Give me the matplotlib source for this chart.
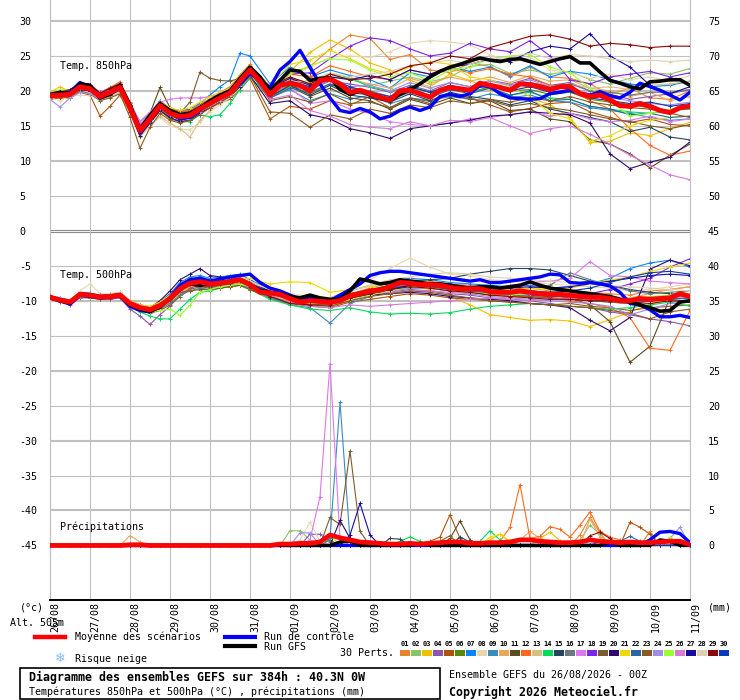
import matplotlib
matplotlib.use("Agg")
import matplotlib.pyplot as plt
from matplotlib.lines import Line2D
from matplotlib.patches import Rectangle
from matplotlib.transforms import ScaledTranslation

plt.rcParams['font.family'] = 'DejaVu Sans Mono'
plt.rcParams['font.size'] = 7.2
plt.rcParams['axes.unicode_minus'] = False

# ---- time axes (hours from 26/08 00Z) ----
hours = list(range(0, 385, 6))
hours_m = list(range(0, 121, 6)) + list(range(132, 385, 12))
days = list(range(0, 385, 24))
dates = ['26/08', '27/08', '28/08', '29/08', '30/08', '31/08', '01/09', '02/09', '03/09',
         '04/09', '05/09', '06/09', '07/09', '08/09', '09/09', '10/09', '11/09']

member_colors = ['#e8832e', '#88c46a', '#f0c000', '#8e55ae', '#b0520e', '#5a8a0a', '#0a84ff',
                 '#e8d6b0', '#3a8cc0', '#e8a85a', '#5e4a1c', '#ff6a1a', '#d4c080', '#00dd5a',
                 '#244560', '#6a7884', '#de78f0', '#7e22ee', '#7c5c2c', '#2e0a6e', '#f0d800',
                 '#2a66a0', '#8c5a20', '#9e8ee8', '#9cff30', '#d87ad8', '#1a0a9e', '#e0d0b0',
                 '#880808', '#0a3ab8']

# ---- mean / control / GFS (6 h) ----
mean850 = [19.3, 19.4, 19.5, 20.6, 20.3, 19.2, 19.8, 20.5, 17.6, 14.3,
           16.0, 17.9, 16.8, 16.3, 16.5, 17.4, 18.2, 19.0, 19.7, 21.4,
           23.0, 21.4, 19.4, 20.8, 21.1, 20.8, 20.0, 21.5, 21.7, 21.0,
           19.8, 20.1, 19.6, 19.1, 18.7, 20.0, 20.1, 19.6, 19.1, 20.1,
           20.5, 20.3, 20.1, 21.1, 20.8, 20.5, 20.1, 21.0, 20.9, 20.6,
           20.2, 20.6, 20.6, 19.6, 19.2, 19.4, 18.7, 17.9, 17.8, 18.2,
           17.8, 17.2, 16.9, 17.6, 17.8]
gfs850 = [19.5, 19.8, 19.6, 21.0, 20.8, 19.0, 19.5, 20.8, 18.0, 14.5,
          16.5, 18.2, 17.2, 16.6, 16.8, 17.5, 18.6, 19.4, 20.0, 21.8,
          23.4, 22.0, 20.0, 21.5, 23.0, 22.8, 21.5, 21.8, 21.9, 20.2,
          19.5, 20.0, 19.4, 19.0, 18.6, 19.5, 20.2, 21.0, 22.0, 22.8,
          23.4, 23.8, 24.3, 24.7, 24.4, 24.2, 24.5, 24.6, 24.2, 23.8,
          24.2, 24.6, 24.9, 24.0, 24.0, 22.7, 21.5, 21.1, 20.6, 20.3,
          21.3, 21.4, 21.6, 21.6, 20.8]
ctrl850 = [19.4, 19.6, 19.8, 21.2, 20.5, 19.0, 19.6, 20.8, 17.8, 14.0,
           15.8, 18.0, 17.0, 16.0, 16.2, 17.2, 18.5, 19.2, 20.0, 21.0,
           22.5, 21.5, 20.5, 23.0, 24.2, 25.8, 23.4, 21.0, 19.0, 17.2,
           16.9, 17.5, 17.0, 16.0, 16.4, 17.2, 17.7, 17.2, 17.7, 19.2,
           19.5, 19.2, 19.6, 20.8, 20.6, 19.6, 19.0, 18.9, 18.8, 18.9,
           19.6, 19.8, 20.1, 19.6, 19.4, 19.9, 19.3, 19.0, 19.8, 21.1,
           20.6, 20.1, 19.4, 18.7, 19.8]
mean500 = [-9.5, -9.9, -10.2, -9.1, -9.2, -9.5, -9.4, -9.2, -10.4, -11.0,
           -11.3, -10.7, -9.7, -8.3, -7.5, -7.3, -7.6, -7.5, -7.3, -7.0,
           -7.7, -8.8, -8.9, -9.1, -9.7, -10.2, -10.0, -10.1, -10.2, -10.0,
           -9.3, -9.0, -8.6, -8.5, -8.0, -7.4, -7.5, -7.7, -7.7, -7.8,
           -8.1, -8.3, -8.3, -8.3, -8.7, -8.8, -8.8, -8.6, -8.8, -9.0,
           -9.1, -9.1, -9.2, -9.4, -9.5, -9.5, -9.7, -10.0, -10.0, -9.7,
           -9.8, -9.7, -9.6, -9.0, -9.4]
gfs500 = [-9.6, -10.0, -10.3, -9.0, -9.2, -9.5, -9.4, -9.2, -10.6, -11.2,
          -11.5, -10.9, -9.6, -8.2, -7.6, -7.8, -7.6, -7.4, -7.2, -7.0,
          -7.6, -8.6, -8.8, -9.0, -9.4, -9.6, -9.2, -9.6, -9.8, -9.8,
          -8.6, -6.9, -7.2, -7.6, -7.4, -7.0, -7.2, -7.4, -7.6, -7.6,
          -7.8, -8.0, -8.2, -8.0, -8.0, -8.2, -8.0, -7.8, -7.3, -7.8,
          -8.2, -8.4, -8.6, -8.8, -9.0, -9.2, -9.4, -9.8, -10.2, -10.6,
          -11.0, -11.5, -11.4, -10.2, -10.0]
ctrl500 = [-9.4, -10.0, -10.5, -9.2, -9.4, -9.6, -9.5, -9.3, -10.8, -11.4,
           -11.6, -10.8, -9.6, -7.8, -7.0, -6.8, -7.2, -6.9, -6.6, -6.4,
           -6.2, -7.4, -8.2, -8.6, -9.2, -9.8, -9.6, -9.8, -10.0, -9.2,
           -8.4, -7.6, -6.4, -6.0, -5.8, -5.8, -6.0, -6.2, -6.4, -6.6,
           -6.8, -7.0, -7.2, -7.0, -7.4, -7.4, -7.2, -7.0, -6.8, -6.6,
           -6.2, -6.3, -7.4, -7.5, -7.4, -7.6, -7.9, -8.8, -10.4, -10.6,
           -11.3, -12.3, -12.3, -12.1, -12.4]
mean_rr = [0, 0, 0, 0, 0, 0, 0, 0, 0.1, 0.1,
           0, 0, 0, 0, 0, 0, 0, 0, 0, 0,
           0, 0, 0, 0.2, 0.2, 0.3, 0.3, 0.5, 1.5, 1.1,
           0.8, 0.5, 0.4, 0.3, 0.2, 0.2, 0.3, 0.2, 0.3, 0.4,
           0.5, 0.5, 0.3, 0.3, 0.4, 0.4, 0.5, 0.8, 0.8, 0.6,
           0.5, 0.4, 0.4, 0.5, 0.8, 0.6, 0.5, 0.4, 0.5, 0.4,
           0.4, 0.5, 0.6, 0.6, 0.1]
ctrl_rr = {360: 0.8, 366: 1.9, 372: 2.0, 378: 1.7, 384: 0.4}
gfs_rr = {174: 0.5, 180: 0.6, 222: 0.3, 336: 0.5, 366: 0.8, 372: 0.6}

# ---- 30 perturbations, T850 (hours_m) ----
t850_01 = [19.6, 19.9, 19.8, 21.0, 20.8, 19.8, 20.5, 21.2, 18.4, 15.2, 16.8, 18.5, 17.6, 17.0, 17.1, 18.1, 18.9, 19.8, 20.6, 22.3, 23.8,
           20.0, 22.5, 23.5, 26.0, 28.0, 27.5, 24.5, 25.2, 23.0, 22.6, 24.0, 23.5, 22.0, 23.4, 22.0, 21.8, 21.0, 19.5, 20.4, 19.0, 18.8, 20.0]
t850_02 = [19.5, 19.7, 19.3, 20.4, 20.1, 19.4, 20.0, 20.6, 17.9, 14.6, 16.4, 18.1, 17.3, 16.6, 16.8, 17.5, 18.0, 18.8, 19.8, 21.5, 22.8,
           19.8, 21.6, 21.0, 22.5, 21.9, 20.8, 21.4, 22.0, 21.3, 22.0, 23.5, 23.8, 22.5, 23.0, 22.4, 22.8, 21.6, 21.0, 21.8, 22.6, 22.4, 23.2]
t850_03 = [19.8, 20.6, 19.9, 21.0, 20.9, 19.5, 20.0, 20.8, 17.2, 13.6, 16.2, 17.6, 17.0, 16.6, 17.0, 17.9, 18.8, 19.6, 20.4, 22.0, 23.2,
           20.5, 22.8, 25.5, 27.3, 26.0, 24.0, 23.0, 21.5, 20.6, 22.4, 21.5, 20.2, 19.2, 19.0, 18.0, 16.2, 12.6, 12.8, 14.0, 13.6, 14.6, 15.5]
t850_04 = [19.0, 19.2, 19.4, 20.3, 20.0, 19.0, 19.5, 20.3, 17.3, 14.0, 15.8, 17.6, 16.6, 16.0, 16.4, 17.2, 18.0, 18.8, 19.5, 21.0, 22.6,
           19.2, 20.6, 20.2, 21.4, 21.0, 20.5, 19.8, 20.8, 20.0, 21.2, 20.6, 21.5, 21.0, 21.8, 20.8, 21.2, 20.0, 19.5, 18.8, 19.2, 19.6, 20.2]
t850_05 = [18.8, 19.0, 19.0, 19.8, 19.4, 16.4, 17.8, 19.4, 17.0, 13.8, 15.4, 17.2, 16.0, 15.6, 15.8, 16.8, 17.6, 18.2, 18.8, 20.2, 21.8,
           16.0, 17.8, 17.4, 18.6, 18.0, 19.2, 17.6, 19.0, 18.5, 19.6, 19.0, 18.0, 17.0, 17.5, 18.2, 18.4, 17.0, 16.2, 15.5, 16.0, 15.2, 15.0]
t850_06 = [19.4, 19.5, 19.6, 20.5, 20.4, 19.3, 19.9, 20.4, 17.8, 14.8, 16.1, 18.0, 17.0, 16.4, 16.6, 17.4, 18.3, 19.1, 19.8, 21.6, 23.0,
           19.6, 20.8, 19.6, 21.0, 20.0, 19.8, 18.8, 20.2, 19.4, 20.4, 19.8, 20.6, 20.0, 20.2, 19.5, 19.8, 18.8, 18.4, 18.0, 17.6, 17.2, 18.0]
t850_07 = [19.6, 19.8, 19.6, 20.8, 20.6, 19.6, 20.2, 21.0, 18.2, 15.6, 16.8, 18.6, 17.4, 17.2, 17.4, 18.2, 19.4, 20.6, 21.6, 25.4, 25.0,
           21.0, 23.4, 22.0, 23.0, 22.2, 21.6, 20.4, 22.6, 22.0, 23.4, 22.8, 23.4, 22.2, 23.6, 22.0, 22.8, 22.4, 21.6, 21.0, 20.6, 20.8, 21.4]
t850_08 = [19.0, 18.6, 19.2, 19.4, 19.3, 18.8, 19.2, 19.8, 16.8, 13.8, 15.2, 16.2, 15.0, 14.6, 14.4, 15.6, 17.0, 18.0, 19.0, 20.6, 22.4,
           20.4, 22.0, 23.4, 24.8, 25.0, 24.8, 25.6, 26.8, 27.2, 27.0, 26.6, 25.2, 24.0, 24.8, 23.0, 22.6, 21.8, 22.4, 21.6, 22.0, 21.4, 22.2]
t850_09 = [19.2, 19.3, 19.4, 20.2, 20.0, 19.0, 19.6, 20.3, 17.2, 14.2, 15.9, 17.6, 16.4, 16.0, 16.2, 17.0, 17.9, 18.7, 19.4, 21.2, 22.8,
           19.0, 20.2, 18.6, 19.6, 18.8, 19.4, 18.2, 19.0, 18.6, 19.2, 18.8, 19.6, 19.0, 19.4, 18.6, 18.4, 17.6, 17.2, 16.8, 16.2, 15.8, 16.0]
t850_10 = [19.5, 19.7, 19.7, 20.9, 20.6, 19.4, 20.1, 20.8, 17.9, 14.9, 16.4, 18.2, 17.3, 16.8, 17.0, 17.8, 18.6, 19.3, 20.1, 21.8, 23.3,
           20.2, 21.8, 21.2, 22.4, 21.6, 21.0, 20.4, 21.8, 21.0, 22.0, 21.4, 22.0, 21.2, 22.2, 21.4, 21.6, 20.4, 20.0, 19.2, 19.8, 18.6, 19.2]
t850_11 = [19.3, 19.6, 19.8, 20.8, 20.4, 19.4, 20.0, 20.6, 17.4, 14.6, 16.8, 20.5, 17.6, 17.0, 17.2, 17.8, 18.4, 19.0, 19.6, 21.2, 22.6,
           19.2, 20.6, 19.2, 20.4, 19.0, 18.6, 17.4, 18.8, 18.0, 19.0, 18.2, 18.6, 17.2, 17.4, 16.0, 15.6, 13.0, 12.4, 11.0, 9.0, 10.8, 12.4]
t850_12 = [19.6, 19.8, 20.0, 21.2, 20.9, 19.8, 20.4, 21.3, 18.2, 14.8, 16.6, 18.4, 17.4, 17.0, 17.2, 18.0, 18.8, 19.6, 20.2, 22.0, 23.6,
           20.6, 22.4, 22.0, 23.6, 22.8, 22.0, 21.6, 23.0, 22.4, 23.2, 22.6, 23.2, 22.4, 22.0, 20.8, 20.2, 18.6, 17.4, 14.6, 12.2, 10.8, 11.4]
t850_13 = [19.0, 19.1, 19.2, 20.0, 19.8, 18.6, 19.2, 19.8, 16.8, 13.4, 15.0, 16.4, 15.4, 14.6, 13.4, 15.8, 17.2, 18.4, 19.2, 20.8, 22.4,
           19.0, 20.4, 19.8, 21.0, 19.6, 19.8, 19.0, 20.0, 19.2, 20.6, 20.2, 20.8, 20.4, 21.2, 20.6, 21.0, 20.4, 20.6, 20.2, 20.8, 21.0, 21.4]
t850_14 = [19.6, 19.8, 19.9, 20.6, 20.0, 19.0, 19.6, 20.2, 17.4, 14.4, 15.8, 17.4, 16.2, 15.6, 15.6, 16.6, 16.3, 16.6, 18.2, 20.2, 22.0,
           19.0, 20.6, 21.6, 22.0, 21.8, 20.6, 20.0, 20.4, 19.8, 20.6, 19.8, 20.4, 19.4, 19.8, 19.0, 18.8, 17.8, 17.4, 17.0, 16.8, 17.2, 17.4]
t850_15 = [19.2, 19.4, 19.6, 20.5, 20.0, 19.0, 19.8, 20.4, 17.4, 14.0, 15.6, 17.8, 16.6, 15.8, 16.2, 17.0, 18.0, 18.8, 19.6, 21.2, 22.8,
           19.2, 20.8, 19.4, 20.8, 19.4, 19.0, 18.4, 19.6, 18.6, 19.8, 19.2, 18.8, 18.0, 18.6, 17.4, 16.8, 16.2, 15.6, 14.2, 14.8, 13.4, 13.0]
t850_16 = [19.4, 19.5, 19.6, 20.4, 20.2, 19.3, 19.9, 20.5, 17.7, 14.5, 16.0, 17.8, 16.8, 16.2, 16.5, 17.3, 18.2, 19.0, 19.8, 21.3, 22.9,
           19.6, 21.0, 20.4, 21.6, 20.4, 20.0, 19.2, 20.6, 19.8, 20.8, 20.2, 21.0, 20.4, 21.2, 20.6, 21.0, 20.0, 19.8, 19.4, 19.8, 19.8, 20.2]
t850_17 = [19.8, 20.0, 20.2, 21.0, 20.8, 19.8, 20.4, 20.6, 18.2, 15.6, 17.0, 18.4, 18.8, 19.0, 19.0, 19.0, 19.2, 19.6, 20.2, 21.8, 23.2,
           19.0, 20.4, 18.2, 18.6, 17.4, 16.8, 15.6, 15.2, 15.0, 15.4, 16.0, 16.2, 16.6, 17.0, 16.4, 16.8, 16.0, 15.6, 15.8, 16.4, 15.6, 16.0]
t850_18 = [19.6, 19.8, 20.1, 21.2, 20.8, 19.6, 20.3, 21.0, 18.0, 15.0, 16.6, 18.4, 17.4, 16.8, 17.0, 17.8, 18.8, 19.6, 20.4, 22.0, 23.6,
           20.4, 22.4, 22.6, 24.6, 26.4, 27.6, 27.2, 26.0, 25.0, 25.4, 26.8, 26.0, 25.6, 27.2, 25.0, 21.6, 21.0, 22.0, 22.4, 22.8, 22.0, 22.6]
t850_19 = [19.5, 19.8, 20.0, 20.8, 20.6, 19.4, 20.0, 20.6, 17.6, 14.4, 16.4, 18.0, 17.2, 16.8, 18.4, 22.7, 21.8, 21.5, 21.4, 21.8, 22.8,
           18.6, 19.2, 18.4, 19.6, 18.2, 18.4, 17.6, 19.0, 18.2, 19.6, 18.8, 18.6, 17.8, 18.2, 17.6, 17.2, 16.6, 16.0, 15.6, 15.0, 14.6, 15.2]
t850_20 = [19.2, 19.2, 19.3, 20.2, 20.0, 18.8, 19.4, 20.1, 17.0, 13.6, 15.4, 17.2, 16.2, 15.6, 15.8, 16.8, 17.6, 18.4, 19.2, 20.6, 22.2,
           18.2, 18.6, 16.6, 16.0, 14.6, 14.0, 13.2, 14.6, 15.0, 15.4, 15.8, 16.4, 16.6, 17.0, 16.8, 16.6, 15.4, 11.0, 8.9, 9.8, 10.5, 12.7]
t850_21 = [19.7, 20.2, 20.0, 21.0, 20.7, 19.6, 20.2, 20.9, 18.0, 14.6, 16.6, 18.4, 17.6, 17.2, 17.6, 18.4, 19.2, 19.8, 20.4, 22.2, 23.6,
           20.8, 23.8, 24.4, 25.8, 24.6, 23.2, 22.4, 23.4, 24.2, 23.8, 22.0, 21.6, 20.6, 19.2, 16.8, 16.0, 12.8, 13.6, 15.0, 15.8, 16.2, 16.4]
t850_22 = [19.1, 19.3, 19.4, 20.3, 20.1, 19.1, 19.7, 20.3, 17.4, 14.0, 15.6, 17.6, 16.6, 16.0, 16.2, 17.1, 18.0, 18.8, 19.5, 21.1, 22.6,
           19.0, 20.4, 19.8, 21.0, 19.8, 19.4, 18.8, 19.8, 19.0, 20.2, 19.6, 20.4, 19.4, 20.0, 18.6, 18.8, 17.8, 17.4, 16.6, 16.8, 16.2, 16.4]
t850_23 = [19.0, 19.2, 19.0, 20.0, 19.6, 18.6, 19.0, 19.6, 16.2, 11.8, 14.8, 16.8, 15.8, 15.4, 15.8, 16.6, 17.6, 18.4, 19.2, 20.8, 22.2,
           17.0, 16.8, 14.8, 16.6, 16.0, 17.4, 16.8, 18.0, 17.6, 18.6, 18.2, 18.8, 18.4, 19.0, 18.6, 19.2, 18.4, 18.0, 17.6, 17.4, 16.8, 16.2]
t850_24 = [18.8, 17.7, 19.0, 19.8, 19.6, 18.8, 19.6, 20.2, 17.6, 14.4, 16.0, 17.6, 16.6, 16.0, 16.2, 17.0, 18.0, 18.6, 19.4, 21.0, 22.6,
           19.4, 21.0, 20.6, 21.4, 20.6, 20.8, 20.0, 21.2, 20.4, 21.2, 20.6, 21.4, 20.8, 21.6, 20.6, 20.4, 19.6, 19.0, 18.6, 18.2, 18.0, 18.4]
t850_25 = [19.8, 20.1, 20.2, 20.8, 20.5, 19.5, 20.1, 20.6, 17.9, 14.9, 16.3, 18.0, 17.2, 16.7, 16.9, 17.8, 18.6, 19.4, 20.0, 21.6, 23.1,
           20.2, 22.4, 23.6, 24.6, 24.4, 23.0, 22.0, 22.6, 21.4, 23.0, 23.4, 24.6, 25.0, 25.2, 23.4, 22.6, 20.4, 18.6, 16.4, 16.8, 17.4, 17.8]
t850_26 = [19.6, 19.8, 19.9, 20.8, 20.6, 19.6, 20.0, 20.4, 17.6, 14.6, 16.2, 18.0, 17.0, 16.6, 16.8, 17.6, 18.4, 19.1, 19.8, 21.5, 23.0,
           18.8, 19.4, 17.2, 16.4, 15.2, 14.8, 14.6, 15.6, 15.0, 15.8, 15.6, 16.2, 15.0, 13.9, 14.6, 15.0, 13.8, 12.4, 10.8, 9.4, 8.0, 7.3]
t850_27 = [19.5, 19.8, 20.0, 21.2, 20.9, 19.7, 20.3, 21.0, 17.8, 14.2, 16.2, 18.2, 17.0, 16.6, 16.9, 17.8, 18.6, 19.4, 20.2, 21.8, 23.2,
           20.4, 21.8, 20.8, 22.0, 21.6, 22.2, 21.6, 23.0, 22.4, 23.4, 23.8, 24.6, 24.2, 25.6, 26.4, 26.0, 28.2, 25.0, 23.4, 20.8, 19.6, 20.6]
t850_28 = [19.3, 19.5, 19.4, 20.6, 20.2, 19.2, 19.7, 20.4, 17.5, 14.2, 15.9, 17.8, 16.8, 16.2, 16.4, 17.3, 18.1, 18.9, 19.6, 21.3, 22.9,
           19.8, 21.2, 21.4, 22.6, 22.0, 22.4, 22.8, 23.6, 24.0, 24.4, 23.8, 24.6, 24.8, 25.4, 24.6, 25.2, 25.0, 24.6, 24.2, 24.4, 24.2, 24.4]
t850_29 = [19.6, 19.8, 20.2, 21.0, 20.8, 19.6, 20.4, 21.0, 18.0, 14.8, 16.4, 18.2, 17.2, 16.6, 17.0, 17.8, 18.6, 19.4, 20.2, 21.6, 23.2,
           20.6, 22.0, 21.0, 22.4, 21.6, 21.8, 22.4, 23.6, 24.0, 25.0, 24.6, 26.2, 27.0, 27.8, 28.0, 27.4, 26.4, 26.8, 26.6, 26.2, 26.4, 26.4]
t850_30 = [19.4, 19.6, 19.6, 20.8, 20.4, 19.3, 19.9, 20.8, 17.9, 14.6, 16.2, 18.0, 16.9, 16.4, 16.6, 17.5, 18.4, 19.2, 19.9, 21.5, 23.0,
           19.6, 21.4, 20.6, 21.8, 20.6, 19.8, 19.2, 20.6, 19.8, 20.8, 20.2, 20.8, 20.0, 20.6, 19.8, 20.2, 19.0, 18.6, 18.2, 18.4, 17.8, 18.2]

# ---- 30 perturbations, T500 (hours_m) ----
t500_01 = [-9.3, -9.8, -10.0, -8.8, -9.0, -9.3, -9.2, -9.0, -10.2, -10.6, -11.0, -10.2, -9.0, -7.6, -6.8, -6.6, -7.0, -7.0, -6.8, -6.6, -7.2,
           -8.6, -9.4, -9.6, -9.8, -9.0, -8.2, -7.4, -7.0, -7.2, -7.6, -7.8, -8.2, -8.4, -8.2, -8.6, -8.6, -8.8, -9.0, -9.2, -8.6, -8.4, -8.0]
t500_02 = [-9.6, -10.0, -10.3, -9.3, -9.4, -9.6, -9.5, -9.4, -10.6, -11.2, -11.5, -11.0, -10.2, -8.8, -7.9, -7.7, -7.8, -7.6, -7.5, -7.2, -7.8,
           -9.0, -9.8, -10.2, -10.4, -9.6, -8.8, -8.2, -7.6, -7.8, -8.4, -8.6, -8.8, -9.0, -9.2, -9.4, -9.6, -9.6, -9.8, -10.2, -9.8, -9.4, -9.2]
t500_03 = [-9.4, -9.7, -10.0, -9.0, -9.3, -9.6, -9.6, -9.3, -10.6, -11.2, -11.6, -11.0, -10.4, -9.0, -8.0, -7.8, -8.2, -8.0, -7.8, -7.4, -8.0,
           -9.2, -10.0, -10.4, -10.6, -9.8, -9.0, -8.4, -8.0, -8.4, -9.4, -10.6, -12.0, -12.4, -12.8, -12.7, -12.9, -13.7, -12.7, -11.6, -10.5, -9.8, -9.2]
t500_04 = [-9.7, -10.2, -10.6, -9.6, -9.6, -9.8, -9.8, -9.6, -11.2, -12.2, -13.4, -12.0, -10.8, -9.2, -8.2, -7.8, -8.0, -8.0, -7.8, -7.6, -8.2,
           -9.4, -10.2, -10.4, -10.8, -10.0, -9.2, -8.8, -8.4, -8.6, -9.0, -9.2, -9.6, -9.8, -10.0, -10.4, -10.8, -11.0, -11.6, -12.0, -12.6, -13.0, -13.6]
t500_05 = [-9.6, -10.0, -10.4, -9.4, -9.6, -9.8, -9.7, -9.5, -10.8, -11.4, -11.8, -11.4, -10.6, -9.4, -8.4, -8.0, -8.2, -8.2, -8.0, -7.8, -8.4,
           -9.6, -10.4, -10.8, -11.0, -10.2, -9.8, -9.4, -9.0, -9.2, -9.6, -9.8, -10.0, -10.2, -10.4, -10.6, -10.4, -10.8, -11.0, -11.4, -11.0, -10.8, -10.6]
t500_06 = [-9.5, -9.9, -10.1, -9.1, -9.2, -9.4, -9.4, -9.1, -10.4, -11.0, -11.2, -10.6, -9.6, -8.2, -7.4, -7.2, -7.6, -7.4, -7.2, -7.0, -7.6,
           -8.8, -9.6, -9.8, -10.0, -9.2, -8.6, -8.0, -7.6, -7.8, -8.2, -8.4, -8.8, -9.0, -8.8, -9.2, -9.4, -9.6, -9.8, -10.0, -9.6, -9.4, -9.2]
t500_07 = [-9.3, -9.6, -9.9, -8.8, -8.9, -9.2, -9.1, -8.8, -10.0, -10.6, -10.9, -10.2, -9.0, -7.4, -6.6, -6.4, -6.8, -6.6, -6.4, -6.2, -7.0,
           -8.4, -9.2, -9.4, -9.6, -8.6, -7.8, -7.2, -6.8, -7.0, -7.4, -7.6, -7.8, -8.0, -7.8, -8.2, -8.0, -7.6, -6.8, -5.4, -4.6, -4.2, -5.2]
t500_08 = [-9.4, -9.8, -10.0, -8.6, -7.6, -9.0, -9.0, -8.8, -10.0, -10.8, -11.0, -10.4, -9.4, -8.0, -7.2, -7.0, -7.2, -7.0, -6.8, -6.6, -7.2,
           -8.4, -9.0, -9.4, -9.6, -8.4, -7.0, -5.4, -3.9, -5.2, -6.2, -6.4, -7.0, -7.2, -7.4, -7.6, -7.8, -8.0, -8.2, -8.6, -8.4, -8.0, -7.6]
t500_09 = [-9.6, -10.0, -10.3, -9.3, -9.4, -9.6, -9.5, -9.3, -10.6, -11.2, -11.6, -11.2, -10.4, -9.2, -8.6, -8.2, -8.4, -8.2, -7.8, -7.6, -8.2,
           -9.6, -10.6, -11.0, -13.2, -10.4, -9.4, -8.6, -8.2, -8.2, -8.6, -8.8, -9.0, -9.2, -9.4, -9.6, -9.8, -10.0, -10.2, -10.4, -10.0, -9.8, -9.6]
t500_10 = [-9.4, -9.8, -10.1, -9.0, -9.1, -9.4, -9.3, -9.1, -10.3, -10.9, -11.2, -10.6, -9.6, -8.2, -7.4, -7.2, -7.4, -7.4, -7.2, -6.9, -7.6,
           -8.8, -9.6, -10.0, -10.0, -9.2, -8.4, -7.8, -7.4, -7.6, -8.0, -8.2, -8.6, -8.6, -8.6, -8.8, -9.0, -9.2, -9.4, -9.6, -9.0, -8.4, -8.0]
t500_11 = [-9.5, -10.0, -10.2, -9.2, -9.2, -9.4, -9.4, -9.2, -10.2, -10.6, -10.9, -10.4, -9.4, -8.0, -7.8, -7.6, -8.0, -7.8, -7.6, -7.2, -7.8,
           -8.6, -9.4, -9.8, -10.0, -9.0, -8.4, -7.8, -7.4, -7.6, -8.0, -8.2, -8.4, -8.6, -8.8, -9.2, -9.6, -10.6, -13.0, -18.8, -16.5, -9.6, -9.0]
t500_12 = [-9.4, -9.8, -10.0, -9.0, -9.0, -9.3, -9.2, -9.0, -10.2, -10.8, -11.2, -10.6, -9.8, -8.6, -7.8, -7.6, -7.8, -7.6, -7.4, -7.2, -7.8,
           -9.0, -9.8, -10.2, -10.4, -9.6, -9.0, -8.4, -8.0, -8.2, -8.6, -8.8, -9.2, -9.4, -9.4, -9.6, -10.0, -10.4, -11.0, -12.4, -16.8, -17.1, -11.4]
t500_13 = [-9.5, -9.9, -10.2, -9.2, -9.3, -9.5, -9.4, -9.2, -10.4, -11.0, -11.4, -10.8, -9.8, -8.4, -7.6, -7.4, -7.6, -7.6, -7.4, -7.1, -7.8,
           -9.0, -9.8, -10.0, -10.2, -9.4, -8.8, -8.2, -7.8, -8.0, -8.4, -8.6, -8.8, -9.0, -9.0, -9.2, -9.4, -9.6, -9.6, -9.8, -9.6, -9.4, -9.2]
t500_14 = [-9.6, -10.0, -10.4, -9.4, -9.5, -9.7, -9.6, -9.4, -10.8, -11.6, -12.2, -12.6, -12.6, -11.2, -9.8, -8.8, -8.6, -8.2, -8.0, -7.8, -8.4,
           -9.8, -10.6, -11.2, -11.4, -11.0, -11.6, -11.9, -11.8, -11.9, -11.7, -11.2, -10.8, -10.6, -10.4, -10.6, -10.8, -11.0, -11.2, -11.0, -10.6, -10.2, -10.8]
t500_15 = [-9.5, -9.8, -10.2, -9.2, -9.2, -9.5, -9.4, -9.2, -10.2, -10.8, -11.2, -10.4, -9.4, -8.2, -7.6, -7.2, -7.6, -7.4, -7.2, -7.0, -7.6,
           -8.8, -9.6, -10.0, -10.2, -9.2, -8.6, -7.8, -7.2, -7.0, -6.8, -6.2, -5.8, -5.4, -5.4, -5.6, -6.4, -7.2, -7.8, -8.4, -8.8, -9.0, -9.2]
t500_16 = [-9.4, -9.9, -10.1, -9.1, -9.2, -9.5, -9.4, -9.2, -10.4, -11.0, -11.3, -10.7, -9.7, -8.4, -7.6, -7.4, -7.6, -7.5, -7.4, -7.1, -7.7,
           -8.8, -9.6, -10.0, -10.2, -9.4, -8.6, -8.0, -7.4, -7.6, -8.0, -8.2, -8.6, -8.4, -8.2, -7.8, -6.0, -7.0, -7.8, -8.6, -9.0, -8.8, -8.6]
t500_17 = [-9.4, -9.8, -10.0, -9.0, -9.2, -9.4, -9.3, -9.1, -10.3, -10.9, -11.2, -10.6, -9.6, -8.4, -7.6, -7.4, -7.6, -7.4, -7.4, -7.2, -7.8,
           -9.0, -9.8, -10.2, -10.4, -9.6, -9.2, -8.8, -8.6, -8.6, -8.8, -9.0, -8.4, -7.8, -7.4, -7.2, -6.8, -4.4, -6.4, -6.6, -7.2, -7.4, -7.6]
t500_18 = [-9.5, -9.9, -10.2, -9.1, -9.2, -9.5, -9.4, -9.2, -10.4, -11.0, -11.3, -10.7, -9.7, -8.3, -7.5, -7.3, -7.6, -7.5, -7.3, -7.0, -7.7,
           -8.8, -9.6, -9.8, -10.0, -9.2, -8.6, -8.2, -7.8, -8.0, -8.4, -8.6, -8.8, -9.0, -9.2, -9.4, -9.4, -9.0, -8.4, -7.6, -6.8, -5.2, -4.0]
t500_19 = [-9.6, -10.0, -10.3, -9.2, -9.3, -9.6, -9.5, -9.3, -10.5, -11.1, -11.4, -10.8, -9.8, -8.6, -7.8, -7.6, -7.8, -7.6, -7.4, -7.2, -7.8,
           -9.0, -9.8, -10.2, -10.4, -9.6, -9.0, -8.4, -8.0, -8.2, -8.6, -8.8, -9.0, -9.2, -9.4, -9.6, -9.8, -10.0, -10.2, -10.4, -10.0, -9.8, -10.2]
t500_20 = [-9.3, -9.7, -10.0, -9.0, -9.0, -9.2, -9.2, -9.0, -10.2, -10.8, -11.0, -10.0, -8.6, -7.0, -6.2, -5.4, -6.4, -6.6, -6.8, -6.8, -7.4,
           -8.6, -9.4, -9.8, -10.0, -9.6, -9.2, -9.0, -8.8, -9.0, -9.4, -9.6, -9.8, -10.0, -10.4, -10.6, -11.0, -12.8, -14.3, -12.4, -5.5, -4.2, -5.0]
t500_21 = [-9.4, -9.8, -10.0, -9.0, -9.1, -9.4, -9.4, -9.2, -10.0, -10.6, -10.8, -10.2, -9.2, -8.0, -7.4, -7.2, -7.4, -7.2, -7.0, -6.8, -6.8,
           -7.6, -7.3, -7.4, -8.8, -8.4, -8.0, -7.6, -7.2, -7.4, -7.8, -8.0, -8.2, -8.4, -8.2, -8.4, -8.2, -7.6, -7.0, -6.6, -5.8, -5.2, -4.6]
t500_22 = [-9.5, -9.9, -10.3, -9.2, -9.3, -9.6, -9.5, -9.3, -10.5, -11.2, -11.5, -10.9, -9.9, -8.5, -7.7, -7.5, -7.8, -7.6, -7.4, -7.2, -7.9,
           -9.0, -9.8, -10.2, -10.4, -9.4, -8.8, -8.2, -7.8, -8.0, -8.4, -8.6, -9.0, -9.2, -9.0, -9.2, -9.4, -9.8, -10.0, -10.2, -10.0, -9.8, -9.6]
t500_23 = [-9.6, -10.0, -10.4, -9.4, -9.4, -9.7, -9.6, -9.4, -10.6, -11.2, -11.6, -11.0, -10.0, -8.8, -8.6, -8.4, -8.4, -8.2, -8.0, -7.8, -8.4,
           -9.4, -10.2, -10.6, -10.8, -10.0, -9.4, -9.0, -8.6, -8.8, -9.2, -9.6, -10.0, -10.2, -10.4, -10.6, -10.8, -11.0, -11.4, -11.8, -12.6, -11.6, -11.2]
t500_24 = [-9.4, -9.9, -10.2, -9.1, -9.2, -9.5, -9.4, -9.2, -10.4, -11.0, -11.4, -10.8, -9.8, -8.4, -7.6, -7.4, -7.6, -7.4, -7.2, -7.0, -7.6,
           -8.8, -9.8, -10.2, -10.4, -9.6, -9.0, -8.6, -8.2, -8.2, -8.6, -9.0, -9.4, -9.6, -9.8, -10.0, -10.2, -10.4, -10.8, -12.0, -11.2, -10.4, -10.2]
t500_25 = [-9.5, -10.0, -10.3, -9.3, -9.4, -9.6, -9.5, -9.3, -10.6, -11.2, -11.6, -11.4, -11.2, -12.1, -10.6, -8.8, -8.4, -8.0, -7.8, -7.6, -8.0,
           -9.2, -10.0, -10.4, -10.6, -9.8, -9.2, -8.6, -8.0, -8.2, -8.6, -8.8, -9.0, -9.2, -9.0, -9.2, -9.4, -9.4, -9.6, -9.8, -9.4, -9.2, -9.0]
t500_26 = [-9.4, -9.8, -10.1, -9.1, -9.2, -9.4, -9.3, -9.1, -10.4, -11.0, -11.3, -10.8, -9.8, -8.6, -7.8, -7.6, -7.8, -7.6, -7.4, -7.2, -7.8,
           -9.2, -10.2, -10.8, -11.0, -10.6, -10.8, -10.6, -10.4, -10.2, -10.0, -9.8, -9.6, -9.8, -10.0, -9.8, -9.6, -9.8, -10.0, -10.2, -9.8, -9.6, -9.4]
t500_27 = [-9.5, -9.9, -10.2, -9.1, -9.2, -9.5, -9.4, -9.2, -10.4, -11.0, -11.3, -10.7, -9.6, -8.2, -7.4, -7.2, -7.4, -7.4, -7.2, -7.0, -7.6,
           -8.8, -9.6, -10.0, -10.4, -9.6, -9.0, -8.4, -7.8, -7.6, -7.8, -8.0, -8.2, -8.2, -8.0, -8.2, -8.0, -7.6, -7.2, -6.8, -6.4, -6.2, -6.4]
t500_28 = [-9.4, -9.8, -10.0, -9.0, -9.0, -9.3, -9.2, -9.0, -10.2, -10.8, -11.0, -10.4, -9.4, -8.0, -7.2, -7.0, -7.2, -7.2, -7.0, -6.8, -7.4,
           -8.4, -9.2, -9.4, -9.6, -8.6, -7.8, -7.0, -6.6, -6.2, -6.0, -6.2, -6.6, -6.8, -7.0, -7.2, -7.4, -7.6, -7.8, -8.0, -8.2, -8.4, -8.6]
t500_29 = [-9.6, -10.0, -10.4, -9.0, -9.2, -9.6, -9.4, -9.2, -10.6, -11.2, -11.4, -10.8, -9.8, -8.4, -7.6, -7.4, -7.6, -7.6, -7.4, -7.2, -8.0,
           -9.4, -10.4, -10.6, -10.6, -9.6, -9.0, -8.4, -8.0, -8.2, -8.6, -8.8, -9.2, -9.4, -9.6, -9.8, -9.8, -10.0, -10.0, -10.2, -10.4, -10.0, -10.2]
t500_30 = [-9.5, -9.9, -10.2, -9.2, -9.2, -9.5, -9.4, -9.2, -10.4, -11.0, -11.3, -10.7, -9.7, -8.3, -7.5, -7.3, -7.6, -7.5, -7.3, -7.0, -7.7,
           -8.8, -9.6, -10.0, -10.2, -9.2, -8.6, -8.0, -7.4, -7.6, -8.0, -8.2, -8.6, -8.8, -8.6, -8.8, -8.6, -8.2, -7.4, -6.6, -6.0, -5.8, -6.2]

# ---- 30 perturbations, 6 h precipitation (mm), hours with rain ----
rr_01 = {192: 0.6, 318: 1.5, 324: 4.0, 330: 1.8, 360: 2.0}
rr_02 = {144: 2.1, 150: 2.1, 156: 0.8, 318: 0.8, 324: 2.9, 330: 1.6}
rr_03 = {264: 0.8, 270: 1.6, 276: 0.6, 294: 1.0, 300: 1.9, 306: 0.7}
rr_04 = {156: 1.6, 162: 1.6, 168: 0.5}
rr_05 = {222: 0.3, 228: 0.6, 234: 1.2, 240: 4.4, 246: 1.0, 348: 3.3, 354: 2.6, 360: 1.6}
rr_06 = {168: 0.8, 246: 0.6}
rr_07 = {198: 0.4}
rr_08 = {150: 0.8, 156: 3.3, 162: 0.6}
rr_09 = {168: 1.0, 174: 20.5, 180: 0.8, 342: 0.6}
rr_10 = {48: 1.4, 54: 0.5, 282: 0.8, 288: 2.0, 294: 1.0, 324: 3.8, 330: 1.2}
rr_11 = {240: 1.0, 246: 3.5, 252: 0.8}
rr_12 = {270: 0.6, 276: 2.6, 282: 8.7, 288: 1.0, 294: 1.3, 300: 2.7, 306: 2.3, 312: 1.2,
         318: 2.9, 324: 4.8, 330: 2.0, 336: 1.2, 342: 0.8}
rr_13 = {186: 0.4}
rr_14 = {210: 0.6, 216: 1.2, 222: 0.6, 258: 0.6, 264: 2.1, 270: 0.8}
rr_15 = {204: 1.0, 210: 0.9, 246: 1.2, 252: 0.5}
rr_16 = {}
rr_17 = {156: 0.8, 162: 7.0, 168: 26.0, 174: 1.0}
rr_18 = {330: 0.6}
rr_19 = {168: 4.0, 174: 3.0, 180: 13.5, 186: 2.0}
rr_20 = {174: 3.6, 180: 1.0, 336: 0.6}
rr_21 = {264: 1.2, 270: 1.6, 276: 0.5}
rr_22 = {342: 0.6, 348: 1.3, 354: 0.6}
rr_23 = {234: 0.6, 240: 1.4}
rr_24 = {150: 1.8, 156: 1.8, 372: 1.0, 378: 2.6}
rr_25 = {168: 1.5, 372: 1.2}
rr_26 = {216: 0.5}
rr_27 = {180: 1.5, 186: 6.0, 192: 1.5}
rr_28 = {}
rr_29 = {324: 1.4, 330: 1.9, 336: 1.0}
rr_30 = {}

t850_members = [t850_01, t850_02, t850_03, t850_04, t850_05, t850_06, t850_07, t850_08, t850_09, t850_10,
                t850_11, t850_12, t850_13, t850_14, t850_15, t850_16, t850_17, t850_18, t850_19, t850_20,
                t850_21, t850_22, t850_23, t850_24, t850_25, t850_26, t850_27, t850_28, t850_29, t850_30]
t500_members = [t500_01, t500_02, t500_03, t500_04, t500_05, t500_06, t500_07, t500_08, t500_09, t500_10,
                t500_11, t500_12, t500_13, t500_14, t500_15, t500_16, t500_17, t500_18, t500_19, t500_20,
                t500_21, t500_22, t500_23, t500_24, t500_25, t500_26, t500_27, t500_28, t500_29, t500_30]
rr_members = [rr_01, rr_02, rr_03, rr_04, rr_05, rr_06, rr_07, rr_08, rr_09, rr_10,
              rr_11, rr_12, rr_13, rr_14, rr_15, rr_16, rr_17, rr_18, rr_19, rr_20,
              rr_21, rr_22, rr_23, rr_24, rr_25, rr_26, rr_27, rr_28, rr_29, rr_30]

W, H = 740, 700


def fx(x):
    return x / W


def fy(y):
    return 1 - y / H


fig = plt.figure(figsize=(W / 100, H / 100), dpi=100)
ax = fig.add_axes([50 / W, 100 / H, 640 / W, 600 / H])
ymin, ymax = -52.8, 33.0
ax.set_xlim(0, 384)
ax.set_ylim(ymin, ymax)
# right scale: 850hPa part reads +45, lower part is the precipitation (mm)
ax2 = ax.twinx()
ax2.set_ylim(ymin + 45, ymax + 45)

grid_c = '#c0c0c0'
for v in range(-40, 31, 5):
    if v == 0:
        continue
    ax.axhline(v, color=grid_c, lw=1.5 if v % 10 == 0 else 0.8, zorder=0)
ax.axhline(0.14, color='#8a8a8a', lw=0.8, zorder=0)
ax.axhline(-0.14, color='#8a8a8a', lw=0.8, zorder=0)
for d in days:
    ax.axvline(d, color=grid_c, lw=0.8, zorder=0)

for s in ['top']:
    ax.spines[s].set_visible(False)
for s in ['left', 'right']:
    ax.spines[s].set_color(grid_c)
    ax.spines[s].set_linewidth(0.8)
ax.spines['bottom'].set_color('black')
ax.spines['bottom'].set_linewidth(1.4)
for s in ax2.spines.values():
    s.set_visible(False)

# members
for c, a, b, r in zip(member_colors, t850_members, t500_members, rr_members):
    kw = dict(color=c, lw=0.8, marker='+', ms=3, mew=0.7, zorder=2)
    ax.plot(hours_m, a, **kw)
    ax.plot(hours_m, b, **kw)
    ax2.plot(hours, [r.get(h, 0.0) for h in hours], **kw)

ax.plot(hours, ctrl850, color='#0000ff', lw=2.4, zorder=3)
ax.plot(hours, ctrl500, color='#0000ff', lw=2.4, zorder=3)
ax.plot(hours, gfs850, color='black', lw=2.6, zorder=4)
ax.plot(hours, gfs500, color='black', lw=2.6, zorder=4)
ax.plot(hours, mean850, color='#ff0000', lw=3.6, zorder=5)
ax.plot(hours, mean500, color='#ff0000', lw=3.6, zorder=5)
ax2.plot(hours, [ctrl_rr.get(h, 0.0) for h in hours], color='#0000ff', lw=2.4, zorder=3)
ax2.plot(hours, [gfs_rr.get(h, 0.0) for h in hours], color='black', lw=2.4, zorder=4)
ax2.plot(hours, mean_rr, color='#ff0000', lw=3.4, zorder=5)

# ticks
lticks = list(range(-45, 31, 5))
ax.set_yticks(lticks)
ax.set_yticklabels([str(v) for v in lticks])
ax.tick_params(axis='y', length=0, pad=22)
for lab in ax.get_yticklabels():
    lab.set_horizontalalignment('left')
rticks = list(range(0, 76, 5))
ax2.set_yticks(rticks)
ax2.set_yticklabels([str(v) for v in rticks])
ax2.tick_params(axis='y', length=0, pad=13)
ax.set_xticks(days)
ax.set_xticklabels(dates, rotation=90, va='top', ha='center')
ax.tick_params(axis='x', length=0, pad=1.5)
shift = ScaledTranslation(5.5 / 100, 0, fig.dpi_scale_trans)
for lab in ax.get_xticklabels():
    lab.set_transform(lab.get_transform() + shift)

# panel labels
fig.text(fx(60), fy(66), 'Temp. 850hPa', va='center')
fig.text(fx(60), fy(275), 'Temp. 500hPa', va='center')
fig.text(fx(60), fy(527), 'Précipitations', va='center')
fig.text(fx(20), fy(607), '(°c)', va='center')
fig.text(fx(10), fy(623), 'Alt. 505m', va='center')
fig.text(fx(708), fy(607), '(mm)', va='center')

# legend
fig.add_artist(Line2D([fx(35), fx(65)], [fy(637)] * 2, color='#ff0000', lw=3.2))
fig.text(fx(75), fy(637), 'Moyenne des scénarios', va='center')
fig.add_artist(Line2D([fx(225), fx(255)], [fy(637)] * 2, color='#0000ff', lw=3.0))
fig.text(fx(264), fy(637), 'Run de contrôle', va='center')
fig.add_artist(Line2D([fx(225), fx(255)], [fy(646)] * 2, color='black', lw=3.0))
fig.text(fx(264), fy(647), 'Run GFS', va='center')
fig.text(fx(60), fy(659), '\u2744', family='DejaVu Sans', color='#7fbfff', fontsize=9,
         ha='center', va='center')
fig.text(fx(75), fy(659), 'Risque neige', va='center')
fig.text(fx(340), fy(653), '30 Perts.', va='center')
for i, c in enumerate(member_colors):
    fig.add_artist(Rectangle((fx(400 + 11 * i), fy(656)), 10 / W, 6 / H,
                             transform=fig.transFigure, facecolor=c, edgecolor='none'))
    fig.text(fx(405 + 11 * i), fy(643.5), '%02d' % (i + 1), ha='center', va='center',
             fontsize=5, weight='bold')

fig.add_artist(Rectangle((fx(20), fy(699)), 420 / W, 31 / H, transform=fig.transFigure,
                         fill=False, edgecolor='black', lw=1.2))
fig.text(fx(29), fy(677), 'Diagramme des ensembles GEFS sur 384h : 40.3N 0W', va='center',
         fontsize=8.4, weight='bold')
fig.text(fx(29), fy(692), 'Températures 850hPa et 500hPa (°C) , précipitations (mm)', va='center')
fig.text(fx(449), fy(675), 'Ensemble GEFS du 26/08/2026 - 00Z', va='center')
fig.text(fx(449), fy(692), 'Copyright 2026 Meteociel.fr', va='center', fontsize=8.4, weight='bold')

fig.savefig('out.png', dpi=100)
